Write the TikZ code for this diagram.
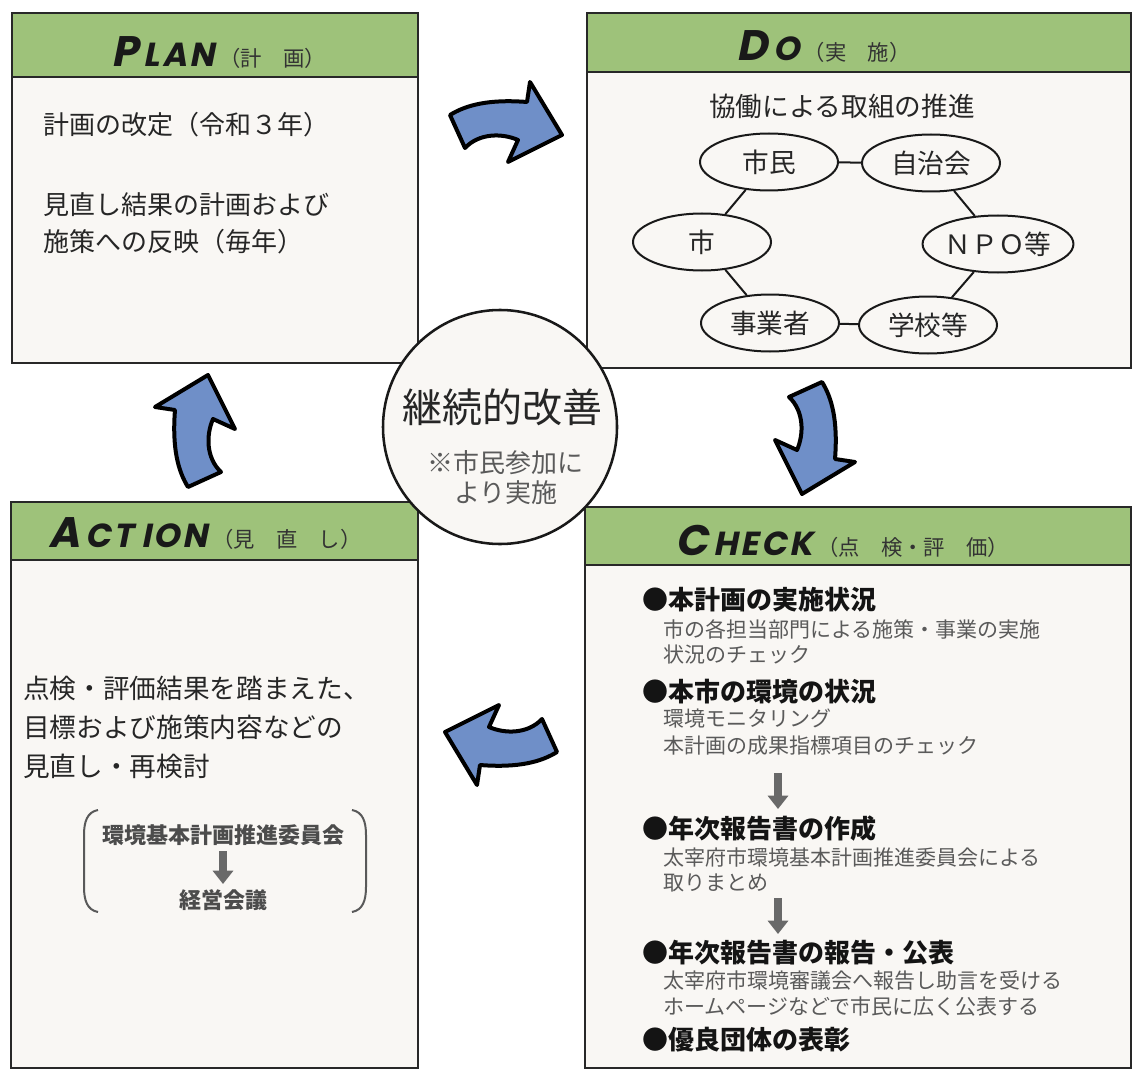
\documentclass[tikz,border=0pt]{standalone}
\usepackage{fontspec}
\newfontfamily\jp{Noto Sans CJK JP}
\newfontfamily\ttl[FakeSlant=0.2, LetterSpace=8]{Poppins}
\usetikzlibrary{shapes.geometric,arrows.meta}
\definecolor{hdr}{RGB}{158,194,122}
\definecolor{boxbg}{RGB}{249,247,244}
\definecolor{arrblue}{RGB}{111,143,200}
\definecolor{txt}{RGB}{38,38,38}
\definecolor{subtxt}{RGB}{90,90,90}
\definecolor{frm}{RGB}{40,40,40}
\definecolor{garrow}{RGB}{105,105,105}
\newcommand\fsz[1]{\fontsize{#1}{#1}\selectfont}
\newcommand\bluearrow[3]{%
  \begin{scope}[shift={(#1,#2)},rotate=#3]
    \draw[barrow] (-54,-6) .. controls (-38,-16) and (-15,-22) .. (23,-19) -- (26,-39) -- (58,14) -- (4,41) -- (14,19) .. controls (-2,12) and (-25,12) .. (-39,27) -- cycle;
  \end{scope}}
\begin{document}
\begin{tikzpicture}[x=0.75pt,y=-0.75pt,
  frame/.style={draw=frm, line width=1.9pt},
  hdrline/.style={draw=frm, line width=1.6pt},
  barrow/.style={fill=arrblue, draw=black, line width=3pt, line join=round},
  jptxt/.style={font=\jp, text=txt, inner sep=0pt},
  bigl/.style={inner sep=0pt, text=black!90, anchor=base west, font=\ttl\bfseries\fsz{32}},
  smallc/.style={inner sep=0pt, text=black!90, anchor=base west, font=\ttl\bfseries\fsz{25}, xshift=4pt},
  sub/.style={inner sep=0pt, text=black!80, anchor=base west, font=\jp\fsz{16}, xshift=3pt},
  oval/.style={ellipse, draw=black!90, line width=1.5pt, fill=boxbg, minimum width=103.5pt, minimum height=42.75pt, inner sep=0pt, font=\jp\fsz{20}, text=txt},
  link/.style={draw=black!90, line width=1.5pt},
  bullet/.style={jptxt, anchor=west, font=\jp\bfseries\fsz{19.5}, text=black!92},
  subt/.style={jptxt, anchor=west, font=\jp\fsz{15.75}, text=subtxt},
  garr/.style={draw=garrow, line width=6pt, -{Triangle[width=15pt,length=10pt]}},
  brk/.style={draw=black!65, line width=1.5pt}
]
\useasboundingbox (0,0) rectangle (1134,1073);
\fill[white] (0,0) rectangle (1134,1073);

% ---------- boxes ----------
\fill[boxbg] (12,13) rectangle (418,363);
\fill[hdr] (12,13) rectangle (418,77);
\draw[hdrline] (12,77) -- (418,77);
\draw[frame] (12,13) rectangle (418,363);

\fill[boxbg] (587,13) rectangle (1131,368);
\fill[hdr] (587,13) rectangle (1131,72);
\draw[hdrline] (587,72) -- (1131,72);
\draw[frame] (587,13) rectangle (1131,368);

\fill[boxbg] (11,502) rectangle (418,1068);
\fill[hdr] (11,502) rectangle (418,560);
\draw[hdrline] (11,560) -- (418,560);
\draw[frame] (11,502) rectangle (418,1068);

\fill[boxbg] (585,507) rectangle (1131,1068);
\fill[hdr] (585,507) rectangle (1131,565);
\draw[hdrline] (585,565) -- (1131,565);
\draw[frame] (585,507) rectangle (1131,1068);

% ---------- titles ----------
\node[bigl] (tplanA) at (111,67) {P};
\node[smallc] (tplanB) at (tplanA.base east) {LAN};
\node[sub] (splan) at (tplanB.base east) {（計　画）};

\node[bigl] (tdoA) at (736,61) {D};
\node[smallc] (tdoB) at (tdoA.base east) {O};
\node[sub] (sdo) at (tdoB.base east) {（実　施）};

\node[bigl] (tactA) at (48,547) {A};
\node[smallc] (tactB) at (tactA.base east) {CT\hspace{6pt}ION};
\node[sub] (sact) at (tactB.base east) {（見　直　し）};

\node[bigl] (tchkA) at (675,555) {C};
\node[smallc] (tchkB) at (tchkA.base east) {HECK};
\node[sub] (schk) at (tchkB.base east) {（点　検・評　価）};

% ---------- PLAN ----------
\node[jptxt, anchor=west, font=\jp\fsz{19.5}] (p1) at (43,125) {計画の改定（令和３年）};
\node[jptxt, anchor=west, font=\jp\fsz{19.5}] (p2) at (43,205) {見直し結果の計画および};
\node[jptxt, anchor=west, font=\jp\fsz{19.5}] (p3) at (43,242) {施策への反映（毎年）};

% ---------- DO ----------
\node[jptxt, font=\jp\fsz{20}] (d0) at (842,106) {協働による取組の推進};
\node[oval] (shimin) at (769,162) {市民};
\node[oval] (jichi) at (931,163) {自治会};
\node[oval] (shi) at (702,242) {市};
\node[oval] (npo) at (998,244) {ＮＰＯ等};
\node[oval] (jigyo) at (770,323) {事業者};
\node[oval] (gakko) at (928,325) {学校等};
\draw[link] (shimin) -- (jichi);
\draw[link] (shimin) -- (shi);
\draw[link] (jichi) -- (npo);
\draw[link] (shi) -- (jigyo);
\draw[link] (npo) -- (gakko);
\draw[link] (jigyo) -- (gakko);

% ---------- ACTION ----------
\node[jptxt, anchor=west, font=\jp\fsz{20}] (a1) at (23,688) {点検・評価結果を踏まえた、};
\node[jptxt, anchor=west, font=\jp\fsz{20}] (a2) at (23,727) {目標および施策内容などの};
\node[jptxt, anchor=west, font=\jp\fsz{20}] (a3) at (23,766) {見直し・再検討};
\draw[brk] (98,810) .. controls (87,812) and (84,822) .. (84,835) -- (84,887) .. controls (84,900) and (87,910) .. (98,912);
\draw[brk] (352,810) .. controls (363,812) and (366,822) .. (366,835) -- (366,887) .. controls (366,900) and (363,910) .. (352,912);
\node[jptxt, font=\jp\bfseries\fsz{16.5}, text=black!70] (k1) at (223,835) {環境基本計画推進委員会};
\node[jptxt, font=\jp\bfseries\fsz{16.5}, text=black!70] (k2) at (223,900) {経営会議};
\coordinate (ka) at (223,851);
\coordinate (kb) at (223,884);
\draw[garr] (ka) -- (kb);

% ---------- CHECK ----------
\node[bullet] (c1) at (642,600) {●本計画の実施状況};
\node[subt] (c1a) at (663,629) {市の各担当部門による施策・事業の実施};
\node[subt] (c1b) at (663,655) {状況のチェック};
\node[bullet] (c2) at (642,692) {●本市の環境の状況};
\node[subt] (c2a) at (663,719) {環境モニタリング};
\node[subt] (c2b) at (663,746) {本計画の成果指標項目のチェック};
\coordinate (g1a) at (778,773);
\coordinate (g1b) at (778,809);
\draw[garr] (g1a) -- (g1b);
\node[bullet] (c3) at (642,829) {●年次報告書の作成};
\node[subt] (c3a) at (663,857) {太宰府市環境基本計画推進委員会による};
\node[subt] (c3b) at (663,883) {取りまとめ};
\coordinate (g2a) at (778,898);
\coordinate (g2b) at (778,934);
\draw[garr] (g2a) -- (g2b);
\node[bullet] (c4) at (642,953) {●年次報告書の報告・公表};
\node[subt] (c4a) at (663,981) {太宰府市環境審議会へ報告し助言を受ける};
\node[subt] (c4b) at (663,1007) {ホームページなどで市民に広く公表する};
\node[bullet] (c5) at (642,1040) {●優良団体の表彰};

% ---------- centre circle ----------
\node[circle, draw=black!90, fill=boxbg, line width=1.9pt, minimum size=175.5pt, inner sep=0pt] (cir) at (500,427) {};
\node[jptxt, font=\jp\fsz{30}] (m1) at (502,407) {継続的改善};
\node[jptxt, font=\jp\fsz{19.5}, text=subtxt] (m2) at (505,463) {※市民参加に};
\node[jptxt, font=\jp\fsz{19.5}, text=subtxt] (m3) at (506,493) {より実施};

% ---------- blue cycle arrows ----------
\bluearrow{504}{121}{0}
\bluearrow{816}{436}{-90}
\bluearrow{503}{746}{180}
\bluearrow{194}{433}{90}
\end{tikzpicture}
\end{document}
